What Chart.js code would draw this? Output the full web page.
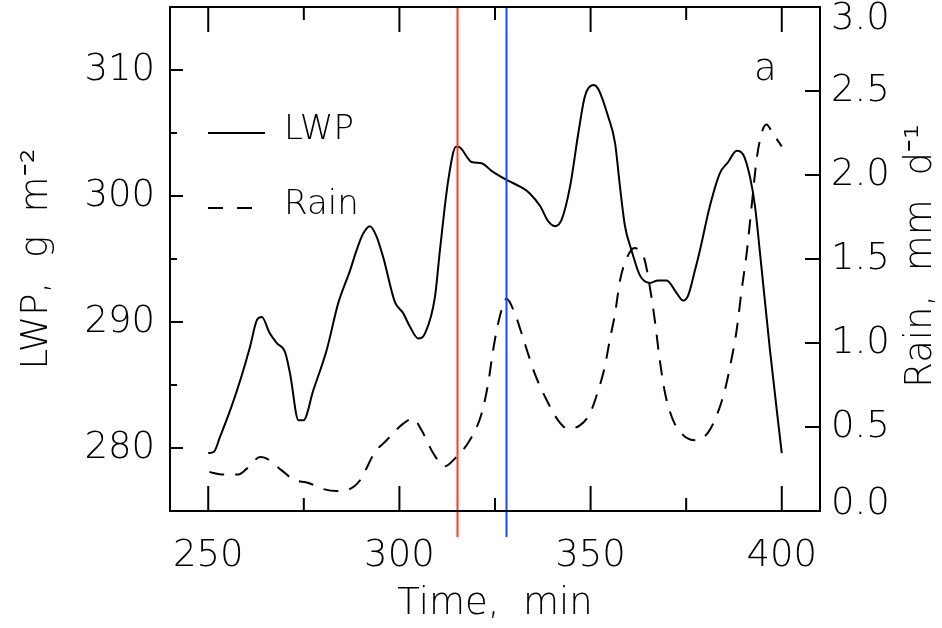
<!DOCTYPE html>
<html>
<head>
<meta charset="utf-8">
<script src="https://cdn.jsdelivr.net/npm/chart.js@4.4.1/dist/chart.umd.min.js"></script>
<style>
  html, body { margin: 0; padding: 0; background: #fff; }
</style>
</head>
<body>
<canvas id="lwpChart" width="942" height="628"></canvas>
<script>
// values
const lwpTime = [250, 251.5, 253.1, 256.1, 258.7, 260.9, 262.8, 264.0, 266.1, 268.0, 270.1, 271.4, 273.6, 274.9,
  277.5, 281.0, 284.0, 287.1, 288.8, 290.5, 292.3, 294.0, 295.8, 298.8, 301.0, 302.8, 304.9, 306.7, 309.3, 310.6,
  312.8, 314.8, 315.4, 318.9, 321.5, 324.1, 327.9, 332.4, 334.1, 336.8, 338.9, 340.7, 342.4, 344.6, 346.8, 348.5,
  350.7, 352.0, 354.6, 356.4, 357.7, 359.0, 360.7, 362.9, 365.5, 367.7, 369.9, 372.5, 374.2, 375.5, 377.3, 378.6,
  381.2, 383.8, 386.0, 388.2, 389.9, 391.7, 393.0, 394.3, 396.9, 400];
const lwpValues = [279.6, 279.7, 280.9, 283.3, 285.7, 288.0, 290.2, 290.4, 289.1, 288.3, 287.6, 285.9, 282.2, 282.2,
  284.6, 287.8, 291.5, 294.1, 295.7, 297.0, 297.6, 296.8, 295.1, 291.6, 290.7, 289.6, 288.7, 289.1, 292.0, 295.7,
  301.3, 303.9, 303.9, 302.7, 302.6, 302.0, 301.3, 300.6, 300.2, 299.2, 298.0, 297.6, 298.1, 300.7, 305.0, 307.9,
  308.8, 308.5, 306.3, 304.2, 300.7, 297.6, 295.7, 293.7, 293.1, 293.3, 293.3, 292.3, 291.7, 292.1, 294.1, 295.7,
  299.2, 301.8, 302.7, 303.6, 303.3, 301.5, 299.2, 295.5, 287.8, 279.6];

const rainTime = [250.3, 253.5, 257.9, 260.1, 263.6, 265.3, 269.2, 272.3, 276.2, 279.7, 283.6, 286.6, 289.7, 293.6,
  296.2, 301.0, 303.6, 305.8, 308.9, 311.9, 314.5, 318.4, 321.5, 323.2, 324.5, 325.8, 327.1, 328.0, 330.2, 332.8,
  335.4, 338.1, 341.5, 344.1, 347.2, 349.8, 352.0, 353.7, 355.0, 356.4, 357.7, 359.4, 361.5, 363.0, 364.2, 365.5,
  366.8, 368.1, 369.5, 371.6, 374.3, 377.7, 380.8, 383.0, 385.1, 386.8, 388.2, 389.5, 390.8, 392.1, 393.4, 394.7,
  396.0, 397.7, 400];
const rainValues = [0.232, 0.218, 0.218, 0.252, 0.321, 0.312, 0.242, 0.187, 0.167, 0.133, 0.119, 0.127, 0.183, 0.351,
  0.411, 0.520, 0.550, 0.480, 0.342, 0.266, 0.312, 0.421, 0.580, 0.758, 0.957, 1.115, 1.224, 1.264, 1.175, 0.996,
  0.818, 0.679, 0.540, 0.490, 0.510, 0.580, 0.718, 0.857, 1.016, 1.175, 1.373, 1.502, 1.565, 1.545, 1.490, 1.333,
  1.135, 0.897, 0.699, 0.540, 0.450, 0.421, 0.470, 0.570, 0.718, 0.897, 1.076, 1.314, 1.530, 1.810, 2.088, 2.246,
  2.300, 2.246, 2.170];

const timeTicks = [250, 300, 350, 400];
const timeMinorTicks = [275, 325, 375];
const lwpTicks = [280, 290, 300, 310];
const lwpMinorTicks = [285, 295, 305];
const rainTicks = [0, 0.5, 1.0, 1.5, 2.0, 2.5, 3.0];
const markerTimes = [315, 328];

const FONT = '"DejaVu Sans", sans-serif';
const bigFont = '200 37px ' + FONT;
const smallFont = '200 34px ' + FONT;

function toPoints(xs, ys) {
  return xs.map((t, i) => ({ x: t, y: ys[i] }));
}

// frame, inward ticks, right axis, legend, markers
const decorations = {
  id: 'decorations',
  afterDraw(chart) {
    const { ctx, chartArea: a, scales } = chart;
    const x = scales.x, yL = scales.yLwp, yR = scales.yRain;
    ctx.save();

    const markerColors = ['#ff3a1c', '#1c46ff'];
    markerTimes.forEach((t, i) => {
      const px = Math.round(x.getPixelForValue(t)) + 0.5;
      ctx.strokeStyle = markerColors[i];
      ctx.lineWidth = 2;
      ctx.beginPath();
      ctx.moveTo(px, a.top);
      ctx.lineTo(px, a.bottom + 26);
      ctx.stroke();
    });

    ctx.strokeStyle = '#000';
    ctx.lineWidth = 2;
    ctx.strokeRect(a.left, a.top, a.right - a.left, a.bottom - a.top);

    ctx.beginPath();
    const xTick = (t, len) => {
      const px = x.getPixelForValue(t);
      ctx.moveTo(px, a.bottom); ctx.lineTo(px, a.bottom - len);
      ctx.moveTo(px, a.top); ctx.lineTo(px, a.top + len);
    };
    timeTicks.forEach(t => xTick(t, 25));
    timeMinorTicks.forEach(t => xTick(t, 13));
    const yTick = (v, len) => {
      const py = yL.getPixelForValue(v);
      ctx.moveTo(a.left, py); ctx.lineTo(a.left + len, py);
    };
    lwpTicks.forEach(v => yTick(v, 13));
    lwpMinorTicks.forEach(v => yTick(v, 7));
    rainTicks.forEach(v => {
      const py = yR.getPixelForValue(v);
      ctx.moveTo(a.right, py); ctx.lineTo(a.right - 15, py);
    });
    ctx.stroke();

    // right axis labels
    ctx.fillStyle = '#000';
    ctx.font = bigFont;
    ctx.textAlign = 'left';
    ctx.textBaseline = 'middle';
    rainTicks.forEach(v => {
      let py = yR.getPixelForValue(v);
      py = Math.min(Math.max(py, a.top + 12), a.bottom - 7);
      ctx.fillText(v.toFixed(1), a.right + 11, py);
    });

    // right axis title, read bottom to top
    ctx.save();
    ctx.translate(921, 256);
    ctx.rotate(-Math.PI / 2);
    ctx.textAlign = 'center';
    ctx.fillText('Rain,  mm  d\u207B\u00B9', 0, 0);
    ctx.restore();

    // legend
    ctx.lineWidth = 2;
    ctx.beginPath();
    ctx.moveTo(208, 133); ctx.lineTo(265, 133);
    ctx.stroke();
    ctx.setLineDash([15, 14]);
    ctx.beginPath();
    ctx.moveTo(208, 208); ctx.lineTo(253, 208);
    ctx.stroke();
    ctx.setLineDash([]);
    ctx.font = smallFont;
    ctx.textAlign = 'left';
    ctx.fillText('LWP', 284, 130);
    ctx.fillText('Rain', 284, 205);

    ctx.font = bigFont;
    ctx.textBaseline = 'alphabetic';
    ctx.fillText('a', 754, 80);
    ctx.restore();
  }
};

new Chart(document.getElementById('lwpChart'), {
  type: 'line',
  data: {
    datasets: [
      {
        label: 'LWP',
        data: toPoints(lwpTime, lwpValues),
        yAxisID: 'yLwp',
        borderColor: '#000',
        borderWidth: 2,
        pointRadius: 0,
        cubicInterpolationMode: 'monotone',
        fill: false
      },
      {
        label: 'Rain',
        data: toPoints(rainTime, rainValues),
        yAxisID: 'yRain',
        borderColor: '#000',
        borderWidth: 2,
        borderDash: [15, 11],
        pointRadius: 0,
        cubicInterpolationMode: 'monotone',
        fill: false
      }
    ]
  },
  options: {
    responsive: false,
    animation: false,
    events: [],
    layout: { padding: { top: 7, left: 0, right: 0, bottom: 0 } },
    plugins: { legend: { display: false }, tooltip: { enabled: false } },
    scales: {
      x: {
        type: 'linear',
        position: 'bottom',
        min: 240,
        max: 410,
        grid: { display: false, drawTicks: false },
        border: { display: false },
        afterBuildTicks: s => { s.ticks = timeTicks.map(v => ({ value: v })); },
        afterFit: s => { s.height = 117; s.paddingLeft = 0; s.paddingRight = 0; },
        ticks: {
          color: '#000',
          padding: 23,
          maxRotation: 0,
          font: { family: FONT, size: 37, weight: 200 }
        },
        title: {
          display: true,
          text: 'Time,  min',
          color: '#000',
          padding: { top: 0, bottom: 1 },
          font: { family: FONT, size: 37, weight: 200 }
        }
      },
      yLwp: {
        type: 'linear',
        position: 'left',
        min: 275,
        max: 315,
        grid: { display: false, drawTicks: false },
        border: { display: false },
        afterBuildTicks: s => { s.ticks = lwpTicks.map(v => ({ value: v })); },
        afterFit: s => { s.width = 170; s.paddingTop = 0; s.paddingBottom = 0; },
        ticks: {
          color: '#000',
          padding: 15,
          font: { family: FONT, size: 37, weight: 200 }
        },
        title: {
          display: true,
          text: 'LWP,  g  m\u207B\u00B2',
          color: '#000',
          padding: { top: 15, bottom: 0 },
          font: { family: FONT, size: 37, weight: 200 }
        }
      },
      yRain: {
        type: 'linear',
        position: 'right',
        min: 0,
        max: 3,
        grid: { display: false, drawTicks: false },
        border: { display: false },
        ticks: { display: false },
        afterFit: s => { s.width = 122; s.paddingTop = 0; s.paddingBottom = 0; }
      }
    }
  },
  plugins: [decorations]
});
</script>
</body>
</html>
